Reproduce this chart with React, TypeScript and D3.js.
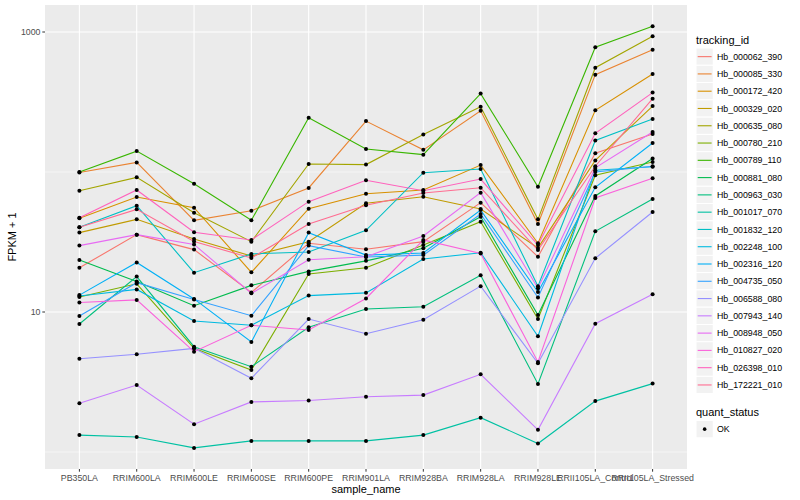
import * as d3 from 'd3';

const samples = [
  'PB350LA', 'RRIM600LA', 'RRIM600LE', 'RRIM600SE', 'RRIM600PE', 'RRIM901LA',
  'RRIM928BA', 'RRIM928LA', 'RRIM928LE', 'RRII105LA_Control', 'RRII105LA_Stressed',
];

const trackingIds = [
  'Hb_000062_390', 'Hb_000085_330', 'Hb_000172_420', 'Hb_000329_020', 'Hb_000635_080',
  'Hb_000780_210', 'Hb_000789_110', 'Hb_000881_080', 'Hb_000963_030', 'Hb_001017_070',
  'Hb_001832_120', 'Hb_002248_100', 'Hb_002316_120', 'Hb_004735_050', 'Hb_006588_080',
  'Hb_007943_140', 'Hb_008948_050', 'Hb_010827_020', 'Hb_026398_010', 'Hb_172221_010',
];

// FPKM + 1, one row per tracking_id, one value per sample
const fpkm = [
  [20.7, 35.7, 27.9, 13.8, 31.0, 28.1, 31.8, 60.4, 24.8, 136, 187],
  [99.2, 117, 45.2, 52.9, 76.9, 231, 144, 274, 42.5, 496, 747],
  [46.7, 66.3, 55.6, 19.2, 54.7, 70.0, 74.4, 112, 31.0, 276, 501],
  [36.9, 45.9, 33.2, 25.1, 31.8, 59.8, 66.6, 54.4, 28.7, 121, 296],
  [73.5, 91.6, 51.2, 31.8, 114, 113, 185, 293, 45.9, 556, 932],
  [12.8, 15.9, 5.50, 3.85, 18.7, 20.7, 30.1, 44.2, 8.91, 94.7, 118],
  [100, 141, 82.5, 45.2, 244, 146, 133, 363, 78.5, 778, 1098],
  [23.5, 16.5, 11.1, 15.5, 19.5, 23.2, 28.5, 47.9, 9.52, 67.4, 125],
  [8.21, 17.9, 5.65, 4.07, 7.78, 10.5, 10.9, 18.3, 3.06, 37.7, 64.1],
  [1.32, 1.28, 1.07, 1.20, 1.20, 1.20, 1.32, 1.76, 1.15, 2.31, 3.08],
  [40.3, 57.4, 19.1, 26.0, 26.8, 38.3, 98.9, 105, 15.3, 168, 239],
  [13.0, 14.5, 8.62, 8.04, 13.1, 13.7, 23.9, 26.5, 6.71, 103, 109],
  [13.2, 22.6, 12.4, 6.11, 36.9, 25.5, 26.4, 53.5, 13.9, 77.7, 161],
  [9.36, 16.2, 12.3, 9.41, 29.8, 24.7, 25.5, 50.1, 12.7, 100, 110],
  [4.64, 4.99, 5.50, 3.36, 8.91, 7.00, 8.81, 15.3, 4.30, 24.2, 51.8],
  [2.23, 3.01, 1.58, 2.28, 2.33, 2.48, 2.55, 3.59, 1.44, 8.25, 13.4],
  [29.8, 35.7, 30.4, 13.6, 23.6, 24.8, 34.9, 71.2, 14.8, 107, 193],
  [11.7, 12.2, 5.21, 8.04, 7.44, 12.5, 32.7, 26.2, 4.40, 65.2, 90.2],
  [47.2, 74.4, 37.1, 32.7, 61.4, 87.2, 73.5, 89.1, 30.1, 189, 369],
  [40.3, 54.1, 31.9, 24.3, 42.5, 57.8, 70.8, 77.2, 27.7, 110, 334],
];

const colors = [
  '#F8766D', '#EA8331', '#D89000', '#C09B00', '#A3A500', '#7CAE00', '#39B600',
  '#00BB4E', '#00BF7D', '#00C1A3', '#00BFC4', '#00BAE0', '#00B0F6', '#35A2FF',
  '#9590FF', '#C77CFF', '#E76BF3', '#FA62DB', '#FF62BC', '#FF6C91',
];

const majorY = [10, 1000];
const minorY = [1, 100];

const font = '"Liberation Sans", Arial, Helvetica, sans-serif';

const App = () => {
  const width = 800;
  const height = 500;
  const left = 45;
  const right = 687;
  const top = 5;
  const bottom = 469;

  const x = d3.scalePoint().domain(samples).range([left, right]).padding(0.6);
  const y = d3
    .scaleLog()
    .domain([Math.pow(10, -0.1214), Math.pow(10, 3.1929)])
    .range([bottom, top]);

  const line = d3
    .line<number>()
    .x((_, i) => x(samples[i])!)
    .y((d) => y(d));

  const keyH = 17.28;
  const keyTop = 48;

  return (
    <svg
      width={width}
      height={height}
      style={{ position: 'absolute', left: 0, top: 0, background: '#fff' }}
      fontFamily={font}
    >
      <rect x={left} y={top} width={right - left} height={bottom - top} fill="#EBEBEB" />
      {minorY.map((v) => (
        <line key={'mi' + v} x1={left} x2={right} y1={y(v)} y2={y(v)} stroke="#fff" strokeWidth={0.55} />
      ))}
      {majorY.map((v) => (
        <line key={'ma' + v} x1={left} x2={right} y1={y(v)} y2={y(v)} stroke="#fff" strokeWidth={1.1} />
      ))}
      {samples.map((s) => (
        <line key={'gx' + s} x1={x(s)} x2={x(s)} y1={top} y2={bottom} stroke="#fff" strokeWidth={1.1} />
      ))}

      {fpkm.map((row, i) => (
        <path key={'l' + i} d={line(row)!} fill="none" stroke={colors[i]} strokeWidth={1.1} />
      ))}
      {fpkm.map((row, i) =>
        row.map((v, j) => (
          <circle key={'p' + i + '-' + j} cx={x(samples[j])} cy={y(v)} r={2} fill="#000" />
        )),
      )}

      {/* y axis */}
      {majorY.map((v) => (
        <g key={'yt' + v}>
          <line x1={left - 2.7} x2={left} y1={y(v)} y2={y(v)} stroke="#333" strokeWidth={1} />
          <text x={left - 4.5} y={y(v)} dy="0.35em" textAnchor="end" fontSize={8.8} fill="#4D4D4D">
            {v}
          </text>
        </g>
      ))}
      <text
        transform={`translate(16,${(top + bottom) / 2}) rotate(-90)`}
        textAnchor="middle"
        fontSize={11}
        fill="#000"
      >
        FPKM + 1
      </text>

      {/* x axis */}
      {samples.map((s) => (
        <g key={'xt' + s}>
          <line x1={x(s)} x2={x(s)} y1={bottom} y2={bottom + 2.7} stroke="#333" strokeWidth={1} />
          <text x={x(s)} y={bottom + 11.5} textAnchor="middle" fontSize={8.8} fill="#4D4D4D">
            {s}
          </text>
        </g>
      ))}
      <text x={(left + right) / 2} y={bottom + 24} textAnchor="middle" fontSize={11} fill="#000">
        sample_name
      </text>

      {/* legend: tracking_id */}
      <text x={696} y={44} fontSize={11} fill="#000">
        tracking_id
      </text>
      {trackingIds.map((id, i) => {
        const ky = keyTop + i * keyH;
        return (
          <g key={'lg' + id}>
            <rect x={696} y={ky} width={keyH} height={keyH} fill="#F2F2F2" stroke="#fff" strokeWidth={1} />
            <line x1={697.7} x2={711.6} y1={ky + keyH / 2} y2={ky + keyH / 2} stroke={colors[i]} strokeWidth={1.1} />
            <text x={717} y={ky + keyH / 2} dy="0.35em" fontSize={8.8} fill="#000">
              {id}
            </text>
          </g>
        );
      })}

      {/* legend: quant_status */}
      <text x={696} y={416} fontSize={11} fill="#000">
        quant_status
      </text>
      <rect x={696} y={420.5} width={keyH} height={keyH} fill="#F2F2F2" stroke="#fff" strokeWidth={1} />
      <circle cx={696 + keyH / 2} cy={420.5 + keyH / 2} r={1.8} fill="#000" />
      <text x={717} y={420.5 + keyH / 2} dy="0.35em" fontSize={8.8} fill="#000">
        OK
      </text>
    </svg>
  );
};

export default App;
